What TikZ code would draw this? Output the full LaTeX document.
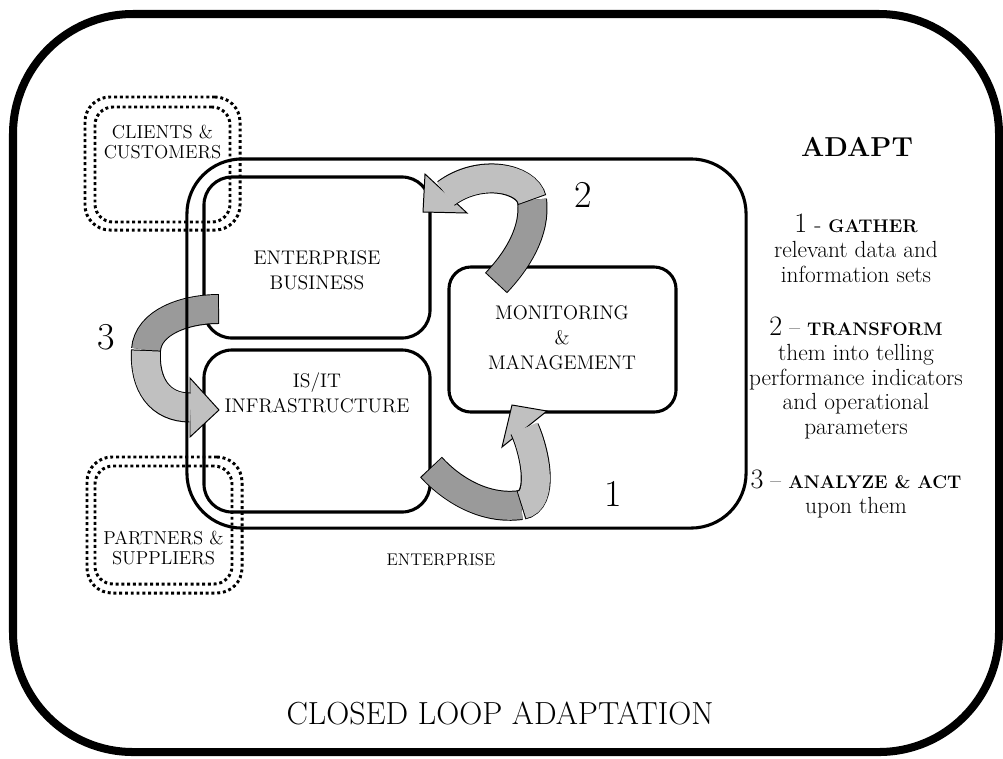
\documentclass[tikz,border=0pt]{standalone}
\usetikzlibrary{positioning}

\definecolor{bandlight}{HTML}{C0C0C0}
\definecolor{banddark}{HTML}{9A9A9A}

\tikzset{
  box/.style={draw, line width=2.2pt, inner sep=0pt},
  dotbox/.style={draw, line width=2.1pt, inner sep=0pt, dash pattern=on 2.1pt off 2pt},
  lbl/.style={align=center, font=\fontsize{14}{17.7}\selectfont},
  small/.style={align=center, font=\fontsize{13.3}{14.2}\selectfont},
  side/.style={align=center, font=\fontsize{16.6}{17.7}\selectfont},
  num/.style={font=\fontsize{27}{30}\selectfont},
  band/.style={line width=21.3pt},
  bandfill/.style={line width=19.9pt, shorten <=0.7pt},
  head/.style={fill=bandlight, line width=0.7pt, line join=miter},
}

\begin{document}
\begin{tikzpicture}[x=0.025cm, y=-0.025cm]
  \useasboundingbox (0,0) rectangle (1003,758);

  % outer frame
  \draw[line width=5.7pt, rounded corners=3cm] (13,14) rectangle (999,752);

  % inner boxes
  \node[box, rounded corners=0.7cm, minimum width=5.65cm, minimum height=4.025cm] (business) at (317,257.5) {};
  \node[box, rounded corners=0.7cm, minimum width=5.65cm, minimum height=4.05cm] (infra) at (317,431) {};
  \node[box, rounded corners=0.55cm, minimum width=5.675cm, minimum height=3.625cm] (monitor) at (562.5,339.5) {};

  \node[lbl] (businessT) at (317,270) {ENTERPRISE\\BUSINESS};
  \node[lbl] (infraT) at (317,393) {IS/IT\\INFRASTRUCTURE};
  \node[lbl] (monitorT) at (562,338) {MONITORING\\\&\\MANAGEMENT};

  % arrow 2 (monitoring -> business)
  \filldraw[head] (425,174) -- (423,212) -- (467,213) -- cycle;
  \draw[band] (496,283) .. controls (516,262) and (536,232) .. (532,200);
  \draw[bandfill, banddark] (496,283) .. controls (516,262) and (536,232) .. (532,200);
  \draw[band] (532,200) .. controls (527,178) and (480,168) .. (446,193.5);
  \draw[bandfill, bandlight, shorten >=-0.6pt] (532,200) .. controls (527,178) and (480,168) .. (446,193.5);

  % arrow 1 (infrastructure -> monitoring)
  \filldraw[head] (502,447) -- (512,405) -- (547,411) -- cycle;
  \draw[band] (431,467) .. controls (452,490) and (485,510) .. (521,505);
  \draw[bandfill, banddark] (431,467) .. controls (452,490) and (485,510) .. (521,505);
  \draw[band] (521,505) .. controls (544,501) and (536,455) .. (524.5,429);
  \draw[bandfill, bandlight, shorten >=-0.6pt] (521,505) .. controls (544,501) and (536,455) .. (524.5,429);

  % arrow 3 (business -> infrastructure)
  \filldraw[head] (190,378) -- (219,410) -- (190,437) -- cycle;
  \draw[band] (219,309) .. controls (185,309) and (148,322) .. (146,350);
  \draw[bandfill, banddark] (219,309) .. controls (185,309) and (148,322) .. (146,350);
  \draw[band] (146,350) .. controls (144,385) and (160,407.5) .. (190,407.5);
  \draw[bandfill, bandlight, shorten >=-0.6pt] (146,350) .. controls (144,385) and (160,407.5) .. (190,407.5);

  \node[num] (one) at (613,494) {1};
  \node[num] (two) at (583,195) {2};
  \node[num] (three) at (106,337) {3};

  % enterprise
  \node[box, rounded corners=1.375cm, minimum width=13.975cm, minimum height=9.225cm] (enterprise) at (466.5,343.5) {};
  \node[small, font=\fontsize{12}{14}\selectfont] (enterpriseT) at (441,560) {ENTERPRISE};

  % clients and partners
  \node[dotbox, rounded corners=0.625cm, minimum width=3.875cm, minimum height=3.325cm] (clients) at (162.5,163.5) {};
  \node[dotbox, rounded corners=0.45cm, minimum width=3.375cm, minimum height=2.875cm] (clientsIn) at (162.5,164.5) {};
  \node[small] (clientsT) at (162.5,142) {CLIENTS \&\\CUSTOMERS};
  \node[dotbox, rounded corners=0.625cm, minimum width=3.875cm, minimum height=3.4cm] (partners) at (164.5,525) {};
  \node[dotbox, rounded corners=0.45cm, minimum width=3.425cm, minimum height=2.95cm] (partnersIn) at (163.5,525) {};
  \node[small] (partnersT) at (163.5,548) {PARTNERS \&\\SUPPLIERS};

  % right column
  \node[font=\fontsize{19.5}{24}\selectfont\bfseries] (adapt) at (857,147) {ADAPT};
  \node[side] (gather) at (856,248) {{\fontsize{20}{20}\selectfont 1} - {\fontsize{13}{15}\selectfont\bfseries GATHER}\\relevant data and\\information sets};
  \node[side] (transform) at (856,378) {{\fontsize{20}{20}\selectfont 2} -- {\fontsize{13}{15}\selectfont\bfseries TRANSFORM}\\them into telling\\performance indicators\\and operational\\parameters};
  \node[side] (analyze) at (856,494) {{\fontsize{20}{20}\selectfont 3} -- {\fontsize{13}{15}\selectfont\bfseries ANALYZE \& ACT}\\upon them};

  \node[font=\fontsize{22.7}{25}\selectfont] (title) at (500,713) {CLOSED LOOP ADAPTATION};
\end{tikzpicture}
\end{document}
